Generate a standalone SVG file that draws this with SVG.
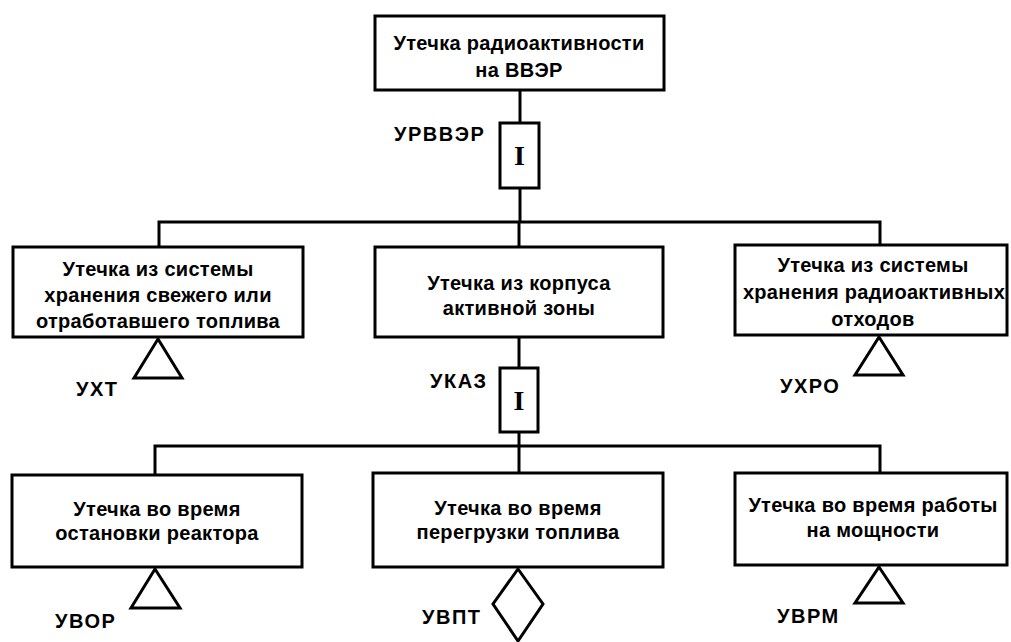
<svg xmlns="http://www.w3.org/2000/svg" width="1011" height="642" viewBox="0 0 1011 642">
<style>
.box{fill:#fff;stroke:#000;stroke-width:3}
.gate{fill:#fff;stroke:#000;stroke-width:3}
.sym{fill:#fff;stroke:#000;stroke-width:3;stroke-linejoin:miter}
.ln{fill:none;stroke:#000;stroke-width:3}
.t{font-family:"Liberation Sans",Arial,sans-serif;font-weight:bold;font-size:20px;letter-spacing:0.3px;text-anchor:middle;fill:#000}
.lbl{font-family:"Liberation Sans",Arial,sans-serif;font-weight:bold;font-size:20px;letter-spacing:1.5px;text-anchor:start;fill:#000}
.g{font-family:"Liberation Serif","Times New Roman",serif;font-weight:bold;font-size:28px;text-anchor:middle;fill:#000}
</style>
<rect width="1011" height="642" fill="#fff"/>
<g id="connectors">
<line class="ln" x1="520" y1="90" x2="520" y2="123"/>
<line class="ln" x1="520" y1="188" x2="520" y2="222"/>
<polyline class="ln" points="159,247 159,222 880,222 880,245"/>
<line class="ln" x1="519" y1="222" x2="519" y2="247"/>
<line class="ln" x1="519" y1="337" x2="519" y2="368"/>
<line class="ln" x1="519" y1="432" x2="519" y2="473"/>
<polyline class="ln" points="155,475 155,446 880,446 880,473"/>
</g>
<g id="top">
<rect class="box" x="375" y="16" width="289" height="74"/>
<text class="t" x="519" y="50">Утечка радиоактивности</text>
<text class="t" x="519" y="77">на ВВЭР</text>
</g>
<g id="gate1">
<rect class="gate" x="500" y="123" width="39" height="65"/>
<text class="g" x="519.5" y="165">I</text>
<text class="lbl" x="394" y="141">УРВВЭР</text>
</g>
<g id="n_uxt">
<rect class="box" x="13" y="247" width="290" height="90"/>
<text class="t" x="158" y="276">Утечка из системы</text>
<text class="t" x="158" y="302">хранения свежего или</text>
<text class="t" x="158" y="328">отработавшего топлива</text>
<polygon class="sym" points="158,339 182,378 134,378"/>
<text class="lbl" x="76" y="396">УХТ</text>
</g>
<g id="n_ukaz">
<rect class="box" x="375" y="247" width="288" height="90"/>
<text class="t" x="519" y="290">Утечка из корпуса</text>
<text class="t" x="519" y="315">активной зоны</text>
</g>
<g id="n_uxro">
<rect class="box" x="735" y="245" width="272" height="90"/>
<text class="t" x="873" y="272">Утечка из системы</text>
<text class="t" x="874" y="299">хранения радиоактивных</text>
<text class="t" x="873" y="326">отходов</text>
<polygon class="sym" points="879,337 903,375 855,375"/>
<text class="lbl" x="780" y="393">УХРО</text>
</g>
<g id="gate2">
<rect class="gate" x="500" y="368" width="38" height="64"/>
<text class="g" x="519" y="410">I</text>
<text class="lbl" x="430" y="388">УКАЗ</text>
</g>
<g id="n_uvor">
<rect class="box" x="12" y="475" width="290" height="92"/>
<text class="t" x="157" y="516">Утечка во время</text>
<text class="t" x="157" y="540">остановки реактора</text>
<polygon class="sym" points="155,569 180,608 131,608"/>
<text class="lbl" x="55" y="628">УВОР</text>
</g>
<g id="n_uvpt">
<rect class="box" x="373" y="473" width="290" height="94"/>
<text class="t" x="518" y="515">Утечка во время</text>
<text class="t" x="518" y="539">перегрузки топлива</text>
<polygon class="sym" points="518,569 543,604 518,641 493,604"/>
<text class="lbl" x="422" y="624">УВПТ</text>
</g>
<g id="n_uvrm">
<rect class="box" x="735" y="473" width="272" height="92"/>
<text class="t" x="873" y="512">Утечка во время работы</text>
<text class="t" x="873" y="537">на мощности</text>
<polygon class="sym" points="879,567 903,603 855,603"/>
<text class="lbl" x="777" y="623">УВРМ</text>
</g>
</svg>
